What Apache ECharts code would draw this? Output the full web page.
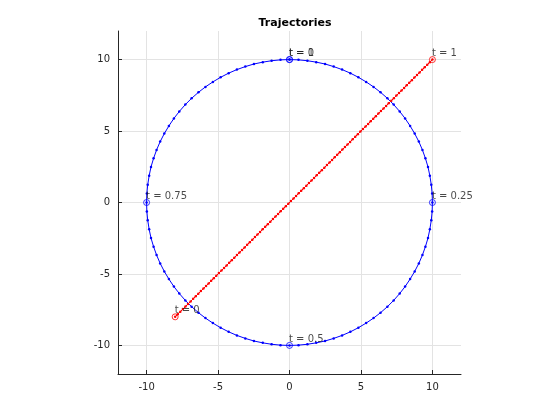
<!DOCTYPE html>
<html>
<head>
<meta charset="utf-8">
<script src="https://cdn.jsdelivr.net/npm/echarts@6/dist/echarts.min.js"></script>
<style>
  html, body { margin: 0; padding: 0; background: #fff; }
  #chart { width: 560px; height: 420px; }
</style>
</head>
<body>
<div id="chart"></div>
<script>
// circle trajectory, t = 0 .. 1 (101 samples)
var circleX = [
  0, 0.63, 1.25, 1.87, 2.49, 3.09, 3.68, 4.26, 4.82, 5.36, 5.88, 6.37, 6.85, 7.29, 7.71, 8.09, 8.44, 8.76, 9.05, 9.3, 9.51, 9.69, 9.82, 9.92, 9.98, 10,
  9.98, 9.92, 9.82, 9.69, 9.51, 9.3, 9.05, 8.76, 8.44, 8.09, 7.71, 7.29, 6.85, 6.37, 5.88, 5.36, 4.82, 4.26, 3.68, 3.09, 2.49, 1.87, 1.25, 0.63, 0,
  -0.63, -1.25, -1.87, -2.49, -3.09, -3.68, -4.26, -4.82, -5.36, -5.88, -6.37, -6.85, -7.29, -7.71, -8.09, -8.44, -8.76, -9.05, -9.3, -9.51, -9.69, -9.82, -9.92, -9.98, -10,
  -9.98, -9.92, -9.82, -9.69, -9.51, -9.3, -9.05, -8.76, -8.44, -8.09, -7.71, -7.29, -6.85, -6.37, -5.88, -5.36, -4.82, -4.26, -3.68, -3.09, -2.49, -1.87, -1.25, -0.63, 0
];
var circleY = [
  10, 9.98, 9.92, 9.82, 9.69, 9.51, 9.3, 9.05, 8.76, 8.44, 8.09, 7.71, 7.29, 6.85, 6.37, 5.88, 5.36, 4.82, 4.26, 3.68, 3.09, 2.49, 1.87, 1.25, 0.63, 0,
  -0.63, -1.25, -1.87, -2.49, -3.09, -3.68, -4.26, -4.82, -5.36, -5.88, -6.37, -6.85, -7.29, -7.71, -8.09, -8.44, -8.76, -9.05, -9.3, -9.51, -9.69, -9.82, -9.92, -9.98, -10,
  -9.98, -9.92, -9.82, -9.69, -9.51, -9.3, -9.05, -8.76, -8.44, -8.09, -7.71, -7.29, -6.85, -6.37, -5.88, -5.36, -4.82, -4.26, -3.68, -3.09, -2.49, -1.87, -1.25, -0.63, 0,
  0.63, 1.25, 1.87, 2.49, 3.09, 3.68, 4.26, 4.82, 5.36, 5.88, 6.37, 6.85, 7.29, 7.71, 8.09, 8.44, 8.76, 9.05, 9.3, 9.51, 9.69, 9.82, 9.92, 9.98, 10
];
// straight trajectory, x = y (101 samples)
var lineXY = [
  -8, -7.82, -7.64, -7.46, -7.28, -7.1, -6.92, -6.74, -6.56, -6.38, -6.2, -6.02, -5.84, -5.66, -5.48, -5.3, -5.12, -4.94, -4.76, -4.58,
  -4.4, -4.22, -4.04, -3.86, -3.68, -3.5, -3.32, -3.14, -2.96, -2.78, -2.6, -2.42, -2.24, -2.06, -1.88, -1.7, -1.52, -1.34, -1.16, -0.98,
  -0.8, -0.62, -0.44, -0.26, -0.08, 0.1, 0.28, 0.46, 0.64, 0.82, 1, 1.18, 1.36, 1.54, 1.72, 1.9, 2.08, 2.26, 2.44, 2.62,
  2.8, 2.98, 3.16, 3.34, 3.52, 3.7, 3.88, 4.06, 4.24, 4.42, 4.6, 4.78, 4.96, 5.14, 5.32, 5.5, 5.68, 5.86, 6.04, 6.22,
  6.4, 6.58, 6.76, 6.94, 7.12, 7.3, 7.48, 7.66, 7.84, 8.02, 8.2, 8.38, 8.56, 8.74, 8.92, 9.1, 9.28, 9.46, 9.64, 9.82, 10
];
// labelled time marks
var blueMarkX = [0, 10, 0, -10, 0];
var blueMarkY = [10, 0, -10, 0, 10];
var blueLabels = ['t = 0', 't = 0.25', 't = 0.5', 't = 0.75', 't = 1'];
var redMarkX = [-8, 10];
var redMarkY = [-8, 10];
var redLabels = ['t = 0', 't = 1'];
var tickValues = [-10, -5, 0, 5, 10];

var FONT = 'DejaVu Sans';
var TXT = '#262626';

function pairs(xs, ys) {
  return xs.map(function (x, i) { return [x, ys[i]]; });
}
function marks(xs, ys, labels) {
  return xs.map(function (x, i) { return { value: [x, ys[i]], name: labels[i] }; });
}

function axis(extra) {
  return Object.assign({
    type: 'value',
    min: -12,
    max: 12,
    axisLine: { show: true, onZero: false, lineStyle: { color: TXT, width: 1 } },
    axisTick: { show: true, inside: true, length: 4, customValues: tickValues, lineStyle: { color: TXT } },
    axisLabel: { customValues: tickValues, color: TXT, fontFamily: FONT, fontSize: 10, margin: 8 },
    splitLine: { show: true, customValues: tickValues, lineStyle: { color: '#e3e3e3', width: 1 } }
  }, extra);
}

var markLabel = {
  show: true,
  position: 'right',
  distance: -4,
  offset: [0, -6],
  formatter: '{b}',
  color: '#1a1a1a',
  fontFamily: FONT,
  fontSize: 10
};

var chart = echarts.init(document.getElementById('chart'));
chart.setOption({
  animation: false,
  title: {
    text: 'Trajectories',
    left: 290,
    textAlign: 'center',
    top: 13,
    textStyle: { fontFamily: FONT, fontSize: 11, fontWeight: 'bold', color: '#000' }
  },
  grid: { left: 118, right: 99, top: 31, bottom: 46 },
  xAxis: axis({}),
  yAxis: axis({}),
  series: [
    {
      type: 'line',
      data: pairs(circleX, circleY),
      symbol: 'circle',
      symbolSize: 2.5,
      showSymbol: true,
      lineStyle: { color: '#0000ff', width: 1 },
      itemStyle: { color: '#0000ff' },
      z: 2
    },
    {
      type: 'line',
      data: pairs(lineXY, lineXY),
      symbol: 'circle',
      symbolSize: 2.5,
      showSymbol: true,
      lineStyle: { color: '#ff0000', width: 1 },
      itemStyle: { color: '#ff0000' },
      z: 3
    },
    {
      type: 'scatter',
      data: marks(blueMarkX, blueMarkY, blueLabels),
      symbol: 'circle',
      symbolSize: 6,
      itemStyle: { color: 'rgba(0,0,0,0)', borderColor: '#0000ff', borderWidth: 1 },
      label: markLabel,
      z: 4
    },
    {
      type: 'scatter',
      data: marks(redMarkX, redMarkY, redLabels),
      symbol: 'circle',
      symbolSize: 6,
      itemStyle: { color: 'rgba(0,0,0,0)', borderColor: '#ff0000', borderWidth: 1 },
      label: markLabel,
      z: 4
    }
  ]
});
</script>
</body>
</html>
